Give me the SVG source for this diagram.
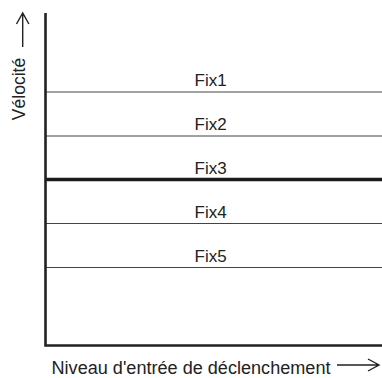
<svg xmlns="http://www.w3.org/2000/svg" width="382" height="378" viewBox="0 0 382 378">
<style>
text{font-family:"Liberation Sans",Arial,Helvetica,sans-serif;fill:#222}
.lbl{font-size:17px}
.ax{font-size:17.5px}
.fix{stroke:#444;stroke-width:1.2;fill:none}
.axis{stroke:#222;stroke-width:2.6;fill:none}
.arr{stroke:#222;stroke-width:1.4;fill:none}
</style>
<rect width="382" height="378" fill="#fff"/>
<g id="connectors">
<line class="fix" x1="46" y1="92" x2="382" y2="92"/>
<line class="fix" x1="46" y1="136" x2="382" y2="136"/>
<line x1="46" y1="179.5" x2="382" y2="179.5" stroke="#1a1a1a" stroke-width="3.4"/>
<line class="fix" x1="46" y1="223.5" x2="382" y2="223.5"/>
<line class="fix" x1="46" y1="267.5" x2="382" y2="267.5"/>
<path class="axis" d="M45.5 13V345.5H382"/>
<path class="arr" d="M22.7 47V13M16.5 24L22.7 13L28.9 24"/>
<path class="arr" d="M337 365H379M368 359L379 365L368 371"/>
</g>
<g id="fix1"><text class="lbl" x="194.5" y="86">Fix1</text></g>
<g id="fix2"><text class="lbl" x="194.5" y="129.5">Fix2</text></g>
<g id="fix3"><text class="lbl" x="194.5" y="173.5">Fix3</text></g>
<g id="fix4"><text class="lbl" x="194.5" y="217.5">Fix4</text></g>
<g id="fix5"><text class="lbl" x="194.5" y="261.5">Fix5</text></g>
<g id="ylabel"><text class="ax" x="25" y="89" text-anchor="middle" transform="rotate(-90 25 89)">Vélocité</text></g>
<g id="xlabel"><text class="ax" x="51.5" y="373.5" textLength="279" lengthAdjust="spacingAndGlyphs">Niveau d'entrée de déclenchement</text></g>
</svg>
